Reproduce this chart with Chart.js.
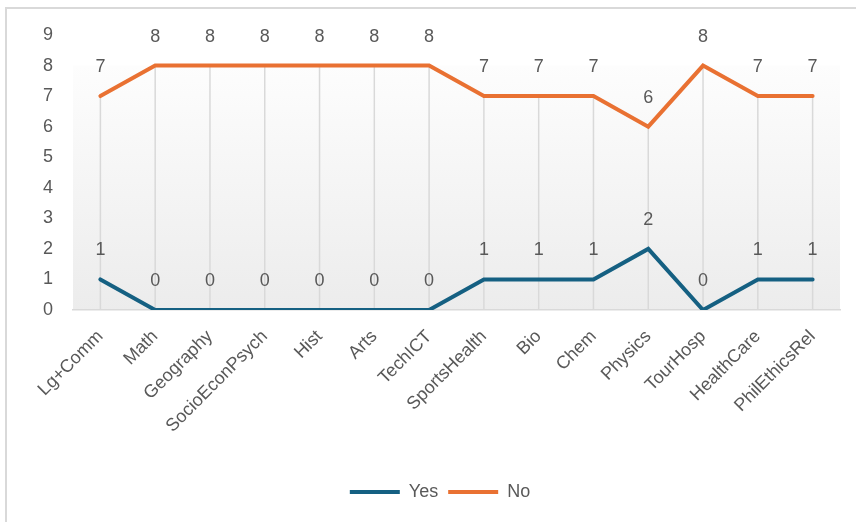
<!DOCTYPE html>
<html lang="en">
<head>
    <meta charset="UTF-8">
    <title>Yes / No by Subject</title>
    <script src="https://cdn.jsdelivr.net/npm/chart.js"></script>
    <style>
        body { margin: 0; background: #fff; }
        canvas { display: block; }
    </style>
</head>
<body>
    <canvas id="subjectChart" width="856" height="522"></canvas>

    <script>
        const subjects = ['Lg+Comm', 'Math', 'Geography', 'SocioEconPsych', 'Hist', 'Arts', 'TechICT',
            'SportsHealth', 'Bio', 'Chem', 'Physics', 'TourHosp', 'HealthCare', 'PhilEthicsRel'];
        const yesCounts = [1, 0, 0, 0, 0, 0, 0, 1, 1, 1, 2, 0, 1, 1];
        const noCounts = [7, 8, 8, 8, 8, 8, 8, 7, 7, 7, 6, 8, 7, 7];
        const yTicks = [0, 1, 2, 3, 4, 5, 6, 7, 8, 9];

        const textGray = '#595959';
        const lineGray = '#d9d9d9';
        const fontFamily = '"Liberation Sans", Arial, sans-serif';

        // frame lines, plot background and drop lines under the series
        const backdrop = {
            id: 'backdrop',
            beforeDraw(chart) {
                const { ctx, chartArea, scales } = chart;
                ctx.save();
                ctx.strokeStyle = lineGray;
                ctx.lineWidth = 2;
                ctx.beginPath();
                ctx.moveTo(6, chart.height);
                ctx.lineTo(6, 8);
                ctx.lineTo(chart.width, 8);
                ctx.stroke();

                const top = scales.y.getPixelForValue(8);
                const grad = ctx.createLinearGradient(0, top, 0, chartArea.bottom);
                grad.addColorStop(0, '#fdfdfd');
                grad.addColorStop(1, '#ececec');
                ctx.fillStyle = grad;
                ctx.fillRect(chartArea.left, top, chartArea.right - chartArea.left, chartArea.bottom - top);
                ctx.restore();
            },
            beforeDatasetsDraw(chart) {
                const { ctx, scales } = chart;
                ctx.save();
                ctx.strokeStyle = lineGray;
                ctx.lineWidth = 1.5;
                subjects.forEach((s, i) => {
                    const x = scales.x.getPixelForValue(i);
                    const hi = Math.max(yesCounts[i], noCounts[i]);
                    ctx.beginPath();
                    ctx.moveTo(x, scales.y.getPixelForValue(hi));
                    ctx.lineTo(x, scales.y.getPixelForValue(0));
                    ctx.stroke();
                });
                ctx.restore();
            }
        };

        // value labels above each point
        const valueLabels = {
            id: 'valueLabels',
            afterDatasetsDraw(chart) {
                const { ctx } = chart;
                ctx.save();
                ctx.fillStyle = textGray;
                ctx.font = '18px ' + fontFamily;
                ctx.textAlign = 'center';
                ctx.textBaseline = 'middle';
                chart.data.datasets.forEach((ds, d) => {
                    chart.getDatasetMeta(d).data.forEach((pt, i) => {
                        ctx.fillText(ds.data[i], pt.x, pt.y - 29);
                    });
                });
                ctx.restore();
            }
        };

        new Chart(document.getElementById('subjectChart'), {
            type: 'line',
            data: {
                labels: subjects,
                datasets: [{
                    label: 'Yes',
                    data: yesCounts,
                    borderColor: '#156082',
                    backgroundColor: '#156082',
                    borderWidth: 4,
                    borderCapStyle: 'round',
                    pointRadius: 0,
                    fill: false
                }, {
                    label: 'No',
                    data: noCounts,
                    borderColor: '#e97132',
                    backgroundColor: '#e97132',
                    borderWidth: 4,
                    borderCapStyle: 'round',
                    pointRadius: 0,
                    fill: false
                }]
            },
            options: {
                responsive: false,
                animation: false,
                layout: { padding: { top: 35, right: 16, bottom: 11, left: 40 } },
                plugins: {
                    legend: {
                        position: 'bottom',
                        labels: {
                            usePointStyle: true,
                            pointStyle: 'line',
                            pointStyleWidth: 50,
                            padding: 10,
                            color: textGray,
                            font: { size: 18, family: fontFamily }
                        }
                    },
                    tooltip: { enabled: false }
                },
                scales: {
                    x: {
                        offset: true,
                        grid: { display: false, offset: false },
                        border: { display: true, color: lineGray, width: 1.5 },
                        ticks: {
                            minRotation: 45,
                            maxRotation: 45,
                            autoSkip: false,
                            padding: 8,
                            color: textGray,
                            font: { size: 18, family: fontFamily }
                        },
                        afterFit(scale) { scale.height = 163; }
                    },
                    y: {
                        min: yTicks[0],
                        max: yTicks[yTicks.length - 1],
                        afterBuildTicks(scale) { scale.ticks = yTicks.map(v => ({ value: v })); },
                        grid: { display: false, drawTicks: false },
                        border: { display: false },
                        ticks: {
                            padding: 20,
                            color: textGray,
                            font: { size: 18, family: fontFamily }
                        },
                        afterFit(scale) { scale.width = 33; }
                    }
                }
            },
            plugins: [backdrop, valueLabels]
        });
    </script>
</body>
</html>
